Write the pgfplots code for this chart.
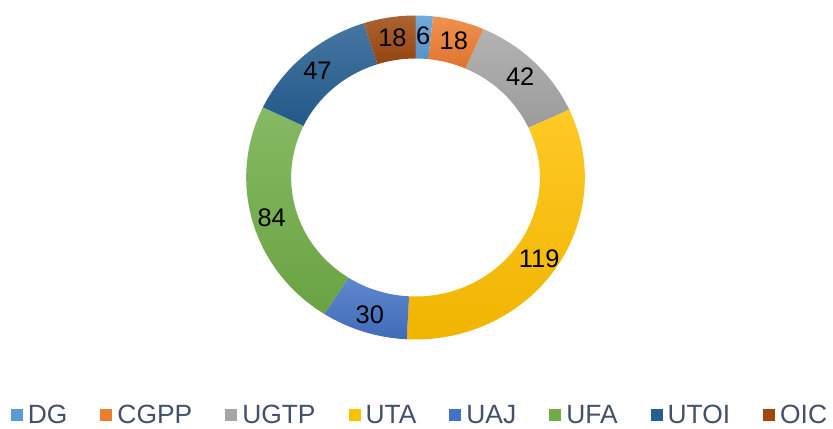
\documentclass[border=0pt]{standalone}
\usepackage{pgfplots}
\usepackage{pgfplotstable}
\pgfplotsset{compat=1.18}
\usepackage{fontspec}
\setmainfont{Liberation Sans}
\definecolor{cDG}{HTML}{5B9BD5}
\definecolor{cCGPP}{HTML}{ED7D31}
\definecolor{cUGTP}{HTML}{A5A5A5}
\definecolor{cUTA}{HTML}{FFC000}
\definecolor{cUAJ}{HTML}{4472C4}
\definecolor{cUFA}{HTML}{70AD47}
\definecolor{cUTOI}{HTML}{255E91}
\definecolor{cOIC}{HTML}{9E480E}
\definecolor{legtext}{HTML}{44506A}
\pgfplotstableread{
name value col
DG 6 cDG
CGPP 18 cCGPP
UGTP 42 cUGTP
UTA 119 cUTA
UAJ 30 cUAJ
UFA 84 cUFA
UTOI 47 cUTOI
OIC 18 cOIC
}\data
\begin{document}
\begin{tikzpicture}
\begin{axis}[hide axis, x=1bp, y=1bp, xmin=0, xmax=833, ymin=0, ymax=428, clip=false,
  /pgf/number format/assume math mode=true,
  legend columns=-1,
  legend style={draw=none, fill=none, inner sep=0pt, at={(axis description cs:0.5042,0.031)}, anchor=center,
    font=\fontsize{26.5}{30}\selectfont, text=legtext,
    /tikz/every odd column/.append style={column sep=3bp},
    /tikz/every even column/.append style={column sep=31bp}},
  legend image code/.code={\fill[#1,draw=none] (0bp,-6bp) rectangle (12bp,6bp);}]
\path (axis cs:0,0) rectangle (axis cs:833,428);
\pgfplotsextra{
  \gdef\total{0}
  \foreach \i in {0,...,7}{
    \pgfplotstablegetelem{\i}{value}\of\data
    \pgfmathsetmacro\tmp{\total+\pgfplotsretval}
    \xdef\total{\tmp}
  }
  \gdef\cumsum{0}
  \foreach \i in {0,...,7}{
    \pgfplotstablegetelem{\i}{value}\of\data \pgfmathsetmacro\myval{\pgfplotsretval}
    \pgfplotstablegetelem{\i}{col}\of\data \edef\mycol{\pgfplotsretval}
    \pgfmathsetmacro\aone{90-\cumsum/\total*360}
    \pgfmathsetmacro\newcum{\cumsum+\myval}
    \xdef\cumsum{\newcum}
    \pgfmathsetmacro\atwo{90-\cumsum/\total*360}
    \pgfmathsetmacro\amid{(\aone+\atwo)/2}
    \begin{scope}[shift={(axis cs:415.5,250.5)}]
      \begin{scope}[xscale=1.045]
      \shade[top color=\mycol!85!white, bottom color=\mycol!94!black]
        (\aone:162bp) arc[start angle=\aone,end angle=\atwo,radius=162bp]
        -- (\atwo:119bp) arc[start angle=\atwo,end angle=\aone,radius=119bp] -- cycle;
      \end{scope}
      \node[font=\fontsize{25.5}{30}\selectfont, text=black] at ({1.045*143*cos(\amid)*1bp},{143*sin(\amid)*1bp-1.5bp}) {\pgfmathprintnumber{\myval}};
    \end{scope}
  }
}
\addlegendimage{fill=cDG}\addlegendentry{DG}
\addlegendimage{fill=cCGPP}\addlegendentry{CGPP}
\addlegendimage{fill=cUGTP}\addlegendentry{UGTP}
\addlegendimage{fill=cUTA}\addlegendentry{UTA}
\addlegendimage{fill=cUAJ}\addlegendentry{UAJ}
\addlegendimage{fill=cUFA}\addlegendentry{UFA}
\addlegendimage{fill=cUTOI}\addlegendentry{UTOI}
\addlegendimage{fill=cOIC}\addlegendentry{OIC}
\end{axis}
\end{tikzpicture}
\end{document}
